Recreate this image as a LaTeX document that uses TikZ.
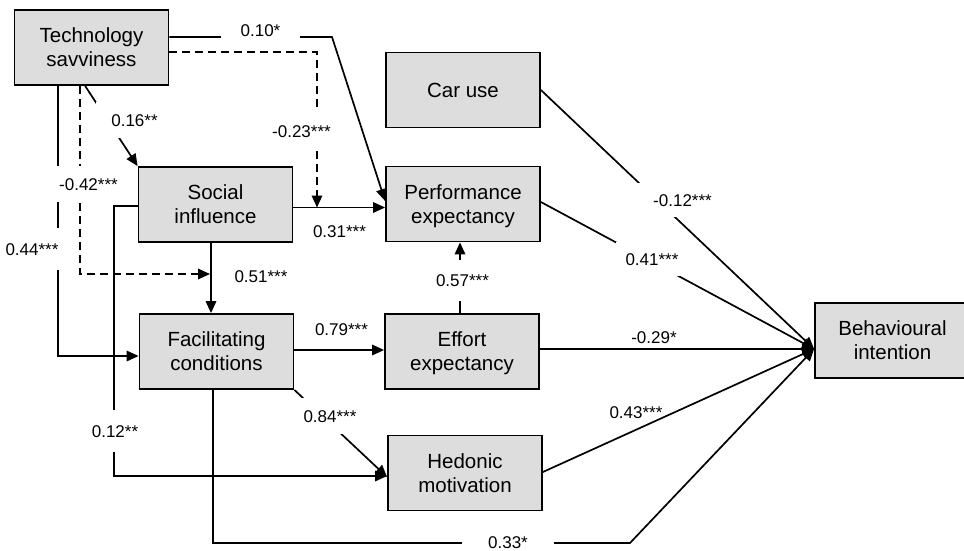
\documentclass[tikz,border=0pt]{standalone}
\usepackage{fontspec}
\setmainfont{Liberation Sans}
\usetikzlibrary{arrows.meta,calc}
\definecolor{boxfill}{RGB}{221,221,221}
\newcommand\nodepth[1]{\raisebox{0pt}[\height][0pt]{#1}}
\begin{document}
\begin{tikzpicture}[x=1pt,y=-1pt,
  box/.style={draw=black, line width=1.8pt, fill=boxfill, minimum width=154pt, minimum height=75pt, align=center, font=\fontsize{20.5}{24}\selectfont, inner sep=0pt},
  conn/.style={line width=1.7pt, -{Triangle[length=12pt,width=10.5pt]}},
  dashconn/.style={conn, dash pattern=on 8pt off 5pt},
  lbl/.style={font=\fontsize{17}{18}\selectfont, text height=12pt, text depth=0pt, inner sep=2pt},
  glbl/.style={lbl, fill=white},
]
\useasboundingbox (0,0) rectangle (964,551);

% boxes
\node[box] (TS) at (91.5,47.5) {Technology\\savviness};
\node[box] (SI) at (215.5,204.5) {Social\\influence};
\node[box] (FC) at (216.5,351.5) {Facilitating\\conditions};
\node[box] (CU) at (463,90) {Car use};
\node[box] (PE) at (463,204) {Performance\\\nodepth{expectancy}};
\node[box] (EE) at (462,351.5) {Effort\\\nodepth{expectancy}};
\node[box] (HM) at (465,473) {Hedonic\\motivation};
\node[box, minimum width=155pt] (BI) at (892.5,340.5) {Behavioural\\intention};

% helper coordinates
\coordinate (a10) at (332,37);
\coordinate (m1) at (317,207.5);
\coordinate (c44) at (57.7,356);
\coordinate (m2) at (210,274);
\coordinate (c12) at (114,476);
\coordinate (c33) at (630,543);
\coordinate (bin) at ($(BI.west)+(0,8.5)$);

% connectors
\draw[conn] (TS.east |- a10) -- (a10) -- ($(PE.west)+(0,-3)$);
\draw[dashconn] (TS.east |- 0,52) -| (m1);
\draw[conn] (SI.east |- m1) -- (PE.west |- m1);
\draw[conn] ($(TS.south west)+(71.5,0)$) -- (SI.north west);
\draw[conn] (TS.south -| c44) -- (c44) -- (FC.west |- c44);
\draw[dashconn] (TS.south -| 80,0) |- (m2);
\draw[conn] (SI.south -| 211,0) -- (FC.north -| 211,0);
\draw[conn] (SI.west |- 0,206) -| (c12) -- (HM.west |- c12);
\draw[conn] (FC.east |- 0,350) -- (EE.west |- 0,350);
\draw[conn] (FC.south east) -- ($(HM.west)+(0,4)$);
\draw[conn] (FC.south -| 213,0) |- (c33) -- (bin);
\draw[conn] (EE.north -| 460,0) -- (PE.south -| 460,0);
\draw[conn] (CU.east) -- (bin);
\draw[conn] ($(PE.east)+(0,-2)$) -- (bin);
\draw[conn] (EE.east |- bin) -- (bin);
\draw[conn] ($(HM.east)+(0,-1)$) -- (bin);

% labels
\node[glbl, inner xsep=20pt, inner ysep=4pt] (l10) at (260.5,31) {0.10*};
\node[glbl, inner xsep=3pt, inner ysep=14pt] (l23) at (301.5,131) {-0.23***};
\node[lbl] (l31) at (339.5,231) {0.31***};
\node[glbl, inner xsep=15pt, inner ysep=12pt] (l16) at (134.5,120) {0.16**};
\node[glbl, inner xsep=4pt, inner ysep=15pt] (l44) at (32,249) {0.44***};
\node[glbl, inner xsep=4pt, inner ysep=12pt] (l42) at (88.5,184) {-0.42***};
\node[lbl] (l51) at (261,276) {0.51***};
\node[glbl, inner xsep=3pt, inner ysep=15pt] (l12) at (115,431) {0.12**};
\node[lbl] (l79) at (341.5,329) {0.79***};
\node[glbl, inner xsep=2pt, inner ysep=12pt] (l84) at (330,416) {0.84***};
\node[glbl, inner xsep=26.5pt, inner ysep=3pt] (l33) at (508,542) {0.33*};
\node[glbl, inner xsep=3pt, inner ysep=14.5pt] (l57) at (462.5,280) {0.57***};
\node[glbl, inner xsep=16pt, inner ysep=11pt] (l12b) at (682.5,200) {-0.12***};
\node[glbl, inner xsep=10pt, inner ysep=11pt] (l41) at (652,259) {0.41***};
\node[lbl] (l29) at (654,337.5) {-0.29*};
\node[lbl] (l43) at (636,412) {0.43***};
\end{tikzpicture}
\end{document}
